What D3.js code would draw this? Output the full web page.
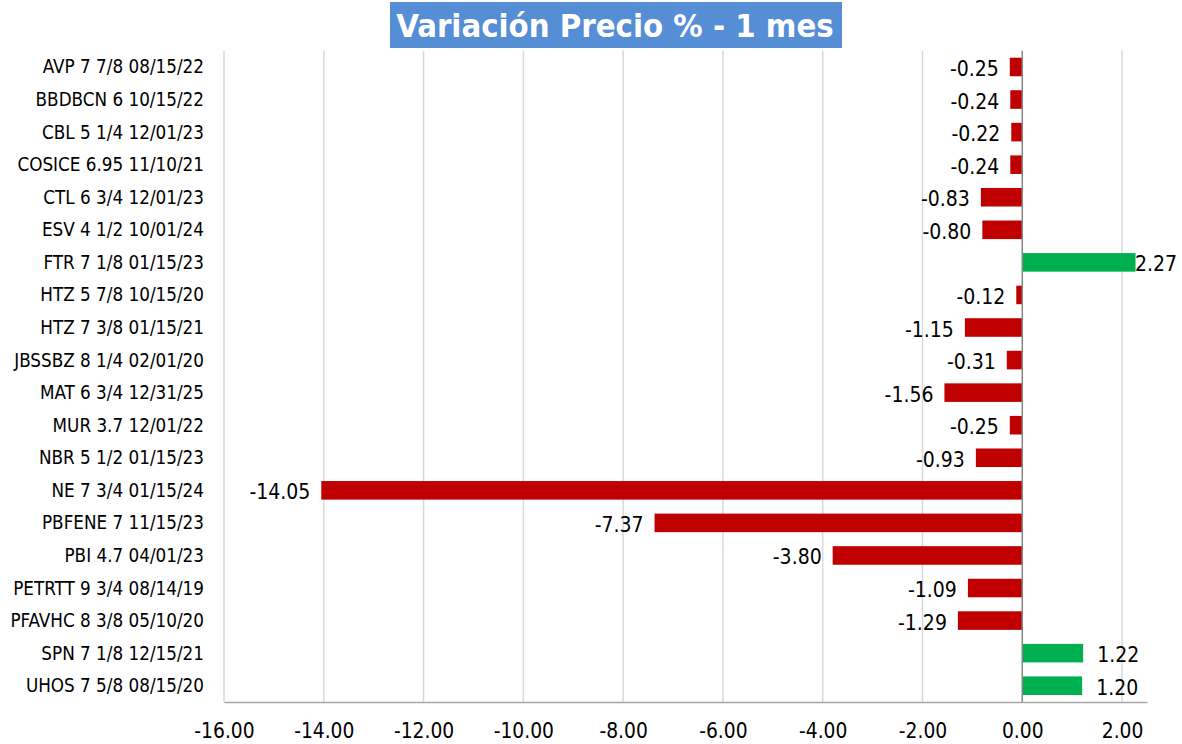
<!DOCTYPE html>
<html>
<head>
<meta charset="utf-8">
<script src="https://cdn.jsdelivr.net/npm/d3@7"></script>
<style>
  html, body { margin: 0; padding: 0; background: #ffffff; }
  svg { display: block; }
  text { font-family: "DejaVu Sans Condensed", "DejaVu Sans", sans-serif; font-stretch: condensed; fill: #000; }
</style>
</head>
<body>
<svg id="chart" width="1182" height="744"></svg>
<script>
const title = "Variación Precio % - 1 mes";
const categories = [
  "AVP 7 7/8 08/15/22",
  "BBDBCN 6 10/15/22",
  "CBL 5 1/4 12/01/23",
  "COSICE 6.95 11/10/21",
  "CTL 6 3/4 12/01/23",
  "ESV 4 1/2 10/01/24",
  "FTR 7 1/8 01/15/23",
  "HTZ 5 7/8 10/15/20",
  "HTZ 7 3/8 01/15/21",
  "JBSSBZ 8 1/4 02/01/20",
  "MAT 6 3/4 12/31/25",
  "MUR 3.7 12/01/22",
  "NBR 5 1/2 01/15/23",
  "NE 7 3/4 01/15/24",
  "PBFENE 7 11/15/23",
  "PBI 4.7 04/01/23",
  "PETRTT 9 3/4 08/14/19",
  "PFAVHC 8 3/8 05/10/20",
  "SPN 7 1/8 12/15/21",
  "UHOS 7 5/8 08/15/20"
];
const values = [
  -0.25, -0.24, -0.22, -0.24, -0.83, -0.80, 2.27, -0.12, -1.15, -0.31,
  -1.56, -0.25, -0.93, -14.05, -7.37, -3.80, -1.09, -1.29, 1.22, 1.20
];
const xTicks = [-16, -14, -12, -10, -8, -6, -4, -2, 0, 2];
const xDomain = [-16, 2.5];

const W = 1182;
const svg = d3.select("#chart");
const margin = { left: 224, right: 1147, top: 50.7, bottom: 702 };

const x = d3.scaleLinear().domain(xDomain).range([margin.left, margin.right]);
const y = d3.scaleBand().domain(categories).range([margin.top, margin.bottom]).paddingInner(0.43).paddingOuter(0.215);

const loc = d3.formatLocale({ decimal: ".", thousands: ",", grouping: [3], currency: ["", ""], minus: "-" });
const fmt = loc.format(".2f");
const FONT = '"DejaVu Sans Condensed", "DejaVu Sans", sans-serif';

// gridlines
svg.append("g").selectAll("line").data(xTicks.filter(t => t !== 0)).join("line")
  .attr("x1", d => x(d)).attr("x2", d => x(d))
  .attr("y1", margin.top).attr("y2", margin.bottom)
  .attr("stroke", "#d9d9d9").attr("stroke-width", 1.5);

// bars
svg.append("g").selectAll("rect").data(values).join("rect")
  .attr("x", d => x(Math.min(0, d)))
  .attr("width", d => Math.abs(x(d) - x(0)))
  .attr("y", (d, i) => y(categories[i]))
  .attr("height", y.bandwidth())
  .attr("fill", d => d < 0 ? "#c00000" : "#00b050");

// zero line
svg.append("line")
  .attr("x1", x(0)).attr("x2", x(0))
  .attr("y1", margin.top).attr("y2", margin.bottom)
  .attr("stroke", "#868686").attr("stroke-width", 1.5);

// bottom axis
const xAxis = d3.axisBottom(x).tickValues(xTicks).tickFormat(fmt).tickSize(0).tickPadding(0);
const gx = svg.append("g").attr("transform", `translate(0,${margin.bottom})`).call(xAxis);
gx.select(".domain").attr("stroke", "#a6a6a6").attr("stroke-width", 1.5);
gx.selectAll("text")
  .attr("y", 36).attr("dy", null)
  .style("font-family", FONT)
  .style("font-stretch", "condensed")
  .style("font-size", "20.8px").attr("fill", "#000");

// category axis
const yAxis = d3.axisLeft(y).tickSize(0).tickPadding(20);
const gy = svg.append("g").attr("transform", `translate(${margin.left},0)`).call(yAxis);
gy.select(".domain").remove();
gy.selectAll("text")
  .attr("dy", null).attr("y", 6.5)
  .style("font-family", FONT)
  .style("font-stretch", "condensed")
  .style("font-size", "18.7px").attr("fill", "#000");

// value labels
const labels = svg.append("g").selectAll("text").data(values).join("text")
  .attr("y", (d, i) => y(categories[i]) + y.bandwidth() / 2 + 9)
  .attr("text-anchor", d => d < 0 ? "end" : "start")
  .style("font-size", "21px")
  .text(d => fmt(d));
labels.attr("x", function(d) {
  if (d < 0) return x(d) - 11;
  const len = this.getComputedTextLength();
  return Math.min(x(d) + 14, W - 5 - len);
});

// title
const tg = svg.append("g");
tg.append("rect").attr("x", 390).attr("y", 2).attr("width", 452).attr("height", 46).attr("fill", "#558ed5");
tg.append("text").attr("x", 615).attr("y", 37).attr("text-anchor", "middle")
  .style("font-size", "32.6px").style("font-weight", "bold").style("fill", "#ffffff")
  .text(title);
</script>
</body>
</html>
